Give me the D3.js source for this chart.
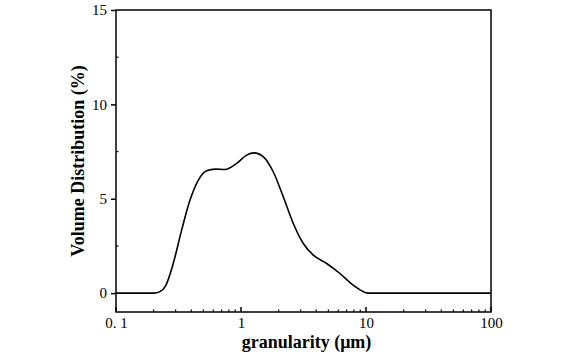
<!DOCTYPE html>
<html>
<head>
<meta charset="utf-8">
<script src="https://cdn.jsdelivr.net/npm/d3@7"></script>
<style>
  body { margin: 0; background: #fff; }
  svg text { font-family: "Liberation Serif", "Times New Roman", serif; fill: #000; }
</style>
</head>
<body>
<div id="chart"></div>
<script>
// Data (granularity in µm, volume %)
const sizes = [0.1, 0.2, 0.225, 0.25, 0.287, 0.335, 0.391, 0.456, 0.531, 0.62, 0.745, 0.923, 1.11, 1.27, 1.51, 1.81, 2.18, 2.62, 3.15, 3.79, 4.85, 6.19, 7.91, 10.4, 100];
const volume = [0, 0, 0.08, 0.4, 1.57, 3.34, 4.93, 5.99, 6.48, 6.57, 6.55, 6.87, 7.31, 7.43, 7.22, 6.43, 5.10, 3.69, 2.63, 2.01, 1.57, 1.04, 0.42, 0, 0];
const xTicks = [0.1, 1, 10, 100];
const xTickLabels = ['0. 1', '1', '10', '100'];
const yTicks = [0, 5, 10, 15];

const margin = { top: 10, right: 81, bottom: 40, left: 116 };
const W = 572, H = 352;
const width = W - margin.left - margin.right;
const height = H - margin.top - margin.bottom;

const svg = d3.select('#chart')
  .append('svg')
  .attr('width', W)
  .attr('height', H)
  .append('g')
  .attr('transform', `translate(${margin.left},${margin.top})`);

const x = d3.scaleLog().domain([0.1, 100]).range([0, width]);
const y = d3.scaleLinear().domain([-1, 15]).range([height, 0]);

// minor ticks
const xMinor = [];
[0.1, 1, 10].forEach(d => { for (let k = 2; k <= 9; k++) xMinor.push(d * k); });
const yMinor = [2.5, 7.5, 12.5];

// x axis (ticks inward)
const gx = svg.append('g').attr('transform', `translate(0,${height})`);
gx.call(d3.axisBottom(x).tickValues(xTicks).tickSize(0).tickFormat((d, i) => xTickLabels[i]))
  .call(g => g.select('.domain').remove())
  .selectAll('text')
  .attr('dy', '0.85em')
  .style('font-size', '15px');
gx.selectAll('.major').data(xTicks).enter().append('line')
  .attr('x1', d => x(d)).attr('x2', d => x(d))
  .attr('y1', 0).attr('y2', -5)
  .attr('stroke', '#000').attr('stroke-width', 1.5);
gx.selectAll('.minor').data(xMinor).enter().append('line')
  .attr('x1', d => x(d)).attr('x2', d => x(d))
  .attr('y1', 0).attr('y2', -2.5)
  .attr('stroke', '#000').attr('stroke-width', 1.2);

// y axis (major out, minor in)
const gy = svg.append('g');
gy.call(d3.axisLeft(y).tickValues(yTicks).tickSize(5).tickPadding(4))
  .call(g => g.select('.domain').remove())
  .call(g => g.selectAll('line').attr('stroke-width', 1.5))
  .selectAll('text')
  .style('font-size', '15px');
gy.selectAll('.minor').data(yMinor).enter().append('line')
  .attr('x1', 0).attr('x2', 2.5)
  .attr('y1', d => y(d)).attr('y2', d => y(d))
  .attr('stroke', '#000').attr('stroke-width', 1.2);

// frame
svg.append('rect')
  .attr('width', width).attr('height', height)
  .attr('fill', 'none').attr('stroke', '#000').attr('stroke-width', 1.5);

// curve
const pts = sizes.map((s, i) => [s, volume[i]]);
svg.append('path')
  .datum(pts)
  .attr('fill', 'none')
  .attr('stroke', '#000')
  .attr('stroke-width', 1.6)
  .attr('d', d3.line().x(d => x(d[0])).y(d => y(d[1])).curve(d3.curveMonotoneX));

// axis titles
svg.append('text')
  .attr('x', width / 2 + 3)
  .attr('y', height + 36)
  .attr('text-anchor', 'middle')
  .style('font-size', '18px')
  .style('font-weight', 'bold')
  .text('granularity (μm)');

svg.append('text')
  .attr('transform', 'rotate(-90)')
  .attr('x', -(161 - margin.top))
  .attr('y', -32)
  .attr('text-anchor', 'middle')
  .style('font-size', '18px')
  .style('font-weight', 'bold')
  .text('Volume Distribution (%)');
</script>
</body>
</html>
